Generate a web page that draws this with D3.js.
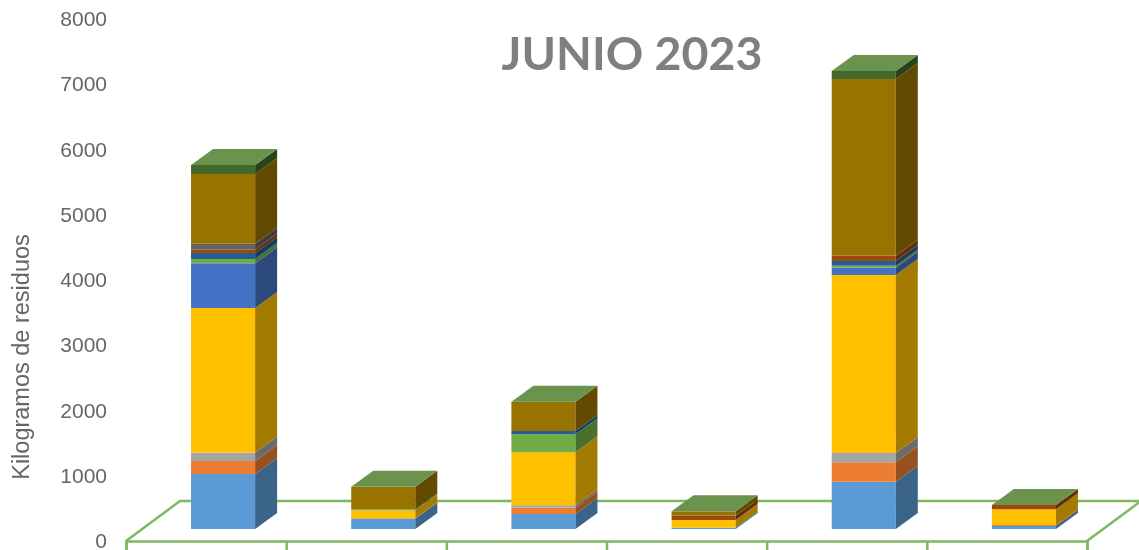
<!DOCTYPE html>
<html lang="es">
<head>
  <meta charset="UTF-8">
  <title>Junio 2023</title>
  <script src="https://d3js.org/d3.v7.min.js"></script>
  <style>
    * { margin: 0; padding: 0; box-sizing: border-box; }
    body { background: #fff; overflow: hidden; }
    svg { display: block; filter: blur(0.4px); }
    .tick text { font-family: "Liberation Sans", Arial, sans-serif; font-size: 21px; fill: #666; }
  </style>
</head>
<body>
  <div id="chart"></div>
  <script>
    // values, kg per column (columns have no labels in the original)
    const categories = ["1", "2", "3", "4", "5", "6"];
    const yTicks = [0, 1000, 2000, 3000, 4000, 5000, 6000, 7000, 8000];

    const azul =      [843, 158, 230, 20, 725, 46];
    const naranja =   [199, 8, 97, 0, 297, 15];
    const gris =      [127, 0, 37, 0, 143, 0];
    const amarillo =  [2218, 118, 812, 118, 2728, 241];
    const azulOsc =   [685, 0, 0, 0, 112, 0];
    const verde =     [66, 15, 276, 0, 31, 0];
    const petroleo =  [92, 0, 50, 0, 72, 0];
    const marron =    [54, 0, 0, 66, 81, 66];
    const grisOsc =   [89, 0, 0, 0, 0, 0];
    const dorado =    [1068, 348, 449, 67, 2708, 0];
    const verdeOsc =  [138, 0, 0, 0, 123, 0];

    const seriesValues = [azul, naranja, gris, amarillo, azulOsc, verde, petroleo, marron, grisOsc, dorado, verdeOsc];
    const frontColors = ["#5B9BD5", "#ED7D31", "#A5A5A5", "#FFC000", "#4472C4", "#70AD47", "#255E91", "#9E480E", "#636363", "#997300", "#43682B"];
    const sideColors =  ["#3A6488", "#98501F", "#6A6A6A", "#A37B00", "#2C497E", "#48702E", "#183C5D", "#652E09", "#3F3F3F", "#624A00", "#2B431C"];
    const topColor = "#6A934E";
    const floorColor = "#80B762";

    const width = 1139, height = 550;

    // depth of the 3D box and of the floor, in pixels
    const depthX = 22, depthY = 16;
    const floorDX = 54, floorDY = 40;
    const liftX = 17, liftY = 12;

    const svg = d3.select("#chart").append("svg")
      .attr("width", width)
      .attr("height", height);

    const x = d3.scaleBand()
      .domain(categories)
      .range([126, 1087])
      .paddingInner(0.6)
      .paddingOuter(0.3);

    const y = d3.scaleLinear()
      .domain([0, 8000])
      .range([541, 19]);

    const rows = categories.map((c, i) => {
      const row = { cat: c };
      seriesValues.forEach((s, k) => { row[k] = s[i]; });
      return row;
    });
    const stacked = d3.stack().keys(seriesValues.map((s, k) => k))(rows);

    // floor
    const x0 = x.range()[0], x1 = x.range()[1], y0 = y(0);
    svg.append("path")
      .attr("d", `M${x0},${y0}L${x0 + floorDX},${y0 - floorDY}H${x1 + floorDX}L${x1},${y0}`)
      .attr("fill", "none")
      .attr("stroke", floorColor)
      .attr("stroke-width", 2.5);

    // bottom axis, only the edges of the categories have a tick
    const edge = d3.scaleLinear().domain([0, categories.length]).range([x0, x1]);
    const xAxis = svg.append("g")
      .attr("transform", `translate(0,${y0})`)
      .call(d3.axisBottom(edge)
        .tickValues(d3.range(categories.length + 1))
        .tickSize(10)
        .tickFormat(""));
    xAxis.selectAll("path, line")
      .attr("stroke", floorColor)
      .attr("stroke-width", 2.5);

    const yAxis = svg.append("g")
      .attr("transform", "translate(110,0)")
      .call(d3.axisLeft(y).tickValues(yTicks).tickSize(0).tickFormat(d3.format("d")));
    yAxis.select(".domain").remove();

    // boxes, bottom series first so upper ones overlap
    const bw = x.bandwidth();
    stacked.forEach((layer, k) => {
      const g = svg.append("g");
      layer.forEach(d => {
        if (d[1] - d[0] <= 0) return;
        const left = x(d.data.cat) + liftX;
        const right = left + bw;
        const bottom = y(d[0]) - liftY;
        const top = y(d[1]) - liftY;
        g.append("rect")
          .attr("x", left)
          .attr("y", top)
          .attr("width", bw)
          .attr("height", bottom - top)
          .attr("fill", frontColors[k]);
        g.append("path")
          .attr("d", `M${right},${bottom}V${top}l${depthX},${-depthY}V${bottom - depthY}Z`)
          .attr("fill", sideColors[k]);
      });
    });

    // top face of each column
    svg.append("g").selectAll("path")
      .data(stacked[stacked.length - 1])
      .enter()
      .append("path")
      .attr("d", d => {
        const left = x(d.data.cat) + liftX;
        const top = y(d[1]) - liftY;
        return `M${left},${top}h${bw}l${depthX},${-depthY}h${-bw}Z`;
      })
      .attr("fill", topColor);

    svg.append("text")
      .attr("transform", "translate(29,357) rotate(-90)")
      .attr("text-anchor", "middle")
      .style("font-family", '"Liberation Sans", Arial, sans-serif')
      .style("font-size", "23.5px")
      .style("fill", "#666")
      .text("Kilogramos de residuos");

    svg.append("text")
      .attr("x", 632)
      .attr("y", 70)
      .attr("text-anchor", "middle")
      .style("font-family", "Lato, sans-serif")
      .style("font-weight", "bold")
      .style("font-size", "46.5px")
      .style("fill", "#7F7F7F")
      .text("JUNIO 2023");
  </script>
</body>
</html>
